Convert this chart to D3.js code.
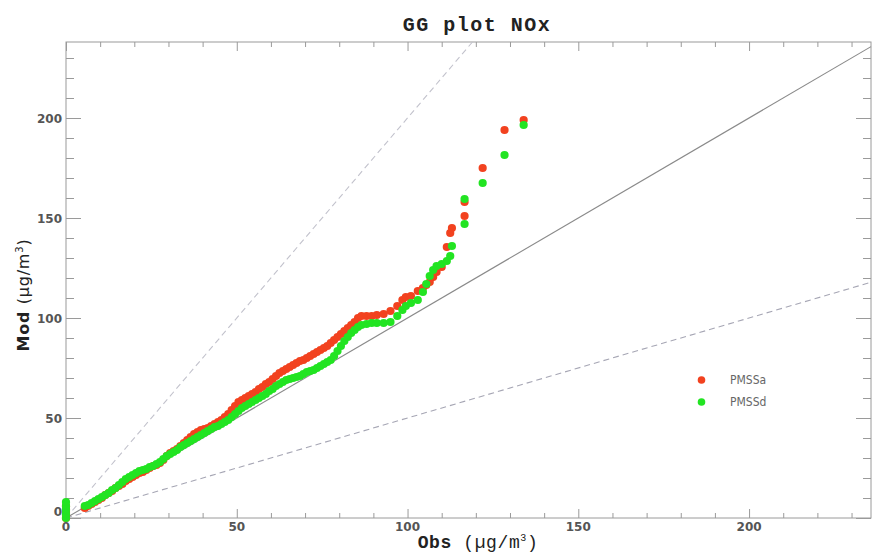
<!DOCTYPE html>
<html>
<head>
<meta charset="utf-8">
<script src="https://cdn.jsdelivr.net/npm/d3@7/dist/d3.min.js"></script>
<style>
  html, body { margin: 0; padding: 0; background: #fff; }
  svg { display: block; }
</style>
</head>
<body>
<svg id="chart" width="872" height="554"></svg>
<script>
// Quantile-quantile data: sorted observed NOx and the matching model quantiles
const obsQuantiles = [
  0, 0, 0, 0, 0,
  5.5, 6.5, 7.5, 8.5, 9.5, 10.5, 11.5, 12.5, 13.5, 14.5,
  15.5, 16.5, 17.5, 18.5, 19.5, 20.5, 21.5, 22.5, 23.5, 24.5,
  25.5, 26.5, 27.5, 28.5, 29.5, 30.5, 31.5, 32.5, 33.5, 34.5,
  35.5, 36.5, 37.5, 38.5, 39.5, 40.5, 41.5, 42.5, 43.5, 44.5,
  45.5, 46.5, 47.5, 48.5, 49.5, 50.5, 51.5, 52.5, 53.5, 54.5,
  55.5, 56.5, 57.5, 58.5, 59.5, 60.5, 61.5, 62.5, 63.5, 64.5,
  65.5, 66.5, 67.5, 68.5, 69.5, 70.5, 71.5, 72.5, 73.5, 74.5,
  75.5, 76.5, 77.5, 78.5, 79.5, 80.5, 81.5, 82.5, 83.5, 84.5,
  85.5, 86.5, 88, 89.5, 91, 93, 95, 97, 98.5, 99.5,
  101, 103, 104.5, 105.5, 106.5, 107.5, 108.5, 110, 111.5, 112.5,
  113, 116.7, 116.7, 122, 128.4, 134
];

const modPMSSa = [
  0, 1.5, 3, 4.5, 6,
  5, 6, 7, 8, 9, 10, 11.5, 12.5, 13.5, 15,
  16, 17, 18.5, 19.5, 20.5, 21.5, 22.5, 23, 24, 25,
  26, 26.5, 27.5, 29, 31, 32.5, 33.5, 34.5, 36, 37.5,
  39, 40.5, 42, 43, 44, 44.5, 45, 46, 47, 48,
  49, 50.5, 52, 54, 56, 58, 59, 60, 61, 62,
  63, 64.5, 65.5, 67, 68, 69.5, 71, 72.5, 73.5, 74.5,
  75.5, 76.5, 77.5, 78.5, 79, 80, 81, 82, 83, 84,
  85, 86, 87.5, 89, 90.5, 92, 93.5, 95, 96.5, 98,
  100, 101, 101, 101, 101.5, 102, 103.5, 106, 109, 110.5,
  111, 113.5, 115, 116.5, 118, 120.5, 123, 125.5, 135.5, 142.5,
  145, 151, 158, 175, 194, 199
];

const modPMSSd = [
  0, 2, 4, 6, 8,
  6, 6.5, 7.5, 8.5, 9.5, 10.5, 11.5, 12.5, 14, 15,
  16.5, 18, 19.5, 20.5, 21.5, 22.5, 23.5, 24, 24.5, 25.5,
  26, 27, 28, 29.5, 31, 32, 33, 34, 35.5, 36.5,
  37.5, 38.5, 39.5, 40.5, 41.5, 42.5, 43.5, 44.5, 45.5, 46,
  47, 48, 49, 50.5, 52, 53.5, 55, 56, 57, 58,
  59, 60, 61, 62, 63.5, 64.5, 66, 67, 68, 69,
  69.5, 70, 70.5, 71, 72, 73, 73.5, 74, 75, 76,
  77, 78, 79, 81, 83.5, 86, 88.5, 90.5, 92.5, 94,
  95.5, 96.5, 97, 97.5, 97.5, 97.5, 98, 101, 104, 106,
  107.5, 109, 113, 117, 121, 124, 126, 127, 128.5, 131,
  136, 147, 159.5, 167.5, 181.5, 196.5
];

const seriesNames = ["PMSSa", "PMSSd"];
const seriesColors = ["#f2421f", "#22e422"];
const xTickValues = [0, 50, 100, 150, 200];
const yTickValues = [0, 50, 100, 150, 200];

// reference lines: slope 1 (solid), slope 2 and 1/2 (dashed)
const refSlopes = [1, 2, 0.5];

const svg = d3.select("#chart");
const plotLeft = 66, plotRight = 871, plotTop = 42, plotBottom = 518;

const x = d3.scaleLinear().domain([0, 235.7]).range([plotLeft, plotRight]);
const y = d3.scaleLinear().domain([0, 238]).range([plotBottom, plotTop]);

const axisColor = "#9a9a9a";

// frame
svg.append("rect")
  .attr("x", plotLeft).attr("y", plotTop)
  .attr("width", plotRight - plotLeft).attr("height", plotBottom - plotTop)
  .attr("fill", "none").attr("stroke", axisColor).attr("stroke-width", 1);

// ticks on all four sides, pointing inwards
const xMinor = d3.range(0, 240, 10);
const yMinor = d3.range(0, 240, 10);

function tickLen(v, major, minor) { return v % 50 === 0 ? major : minor; }

const gb = svg.append("g").attr("transform", `translate(0,${plotBottom})`)
  .call(d3.axisBottom(x).tickValues(xMinor).tickFormat("").tickSizeOuter(0));
gb.selectAll(".tick line").attr("y2", d => -tickLen(d, 9, 5));
const gt = svg.append("g").attr("transform", `translate(0,${plotTop})`)
  .call(d3.axisTop(x).tickValues(xMinor).tickFormat("").tickSizeOuter(0));
gt.selectAll(".tick line").attr("y2", d => tickLen(d, 9, 5));
const gl = svg.append("g").attr("transform", `translate(${plotLeft},0)`)
  .call(d3.axisLeft(y).tickValues(yMinor).tickFormat("").tickSizeOuter(0));
gl.selectAll(".tick line").attr("x2", d => tickLen(d, 15, 8));
const gr = svg.append("g").attr("transform", `translate(${plotRight},0)`)
  .call(d3.axisRight(y).tickValues(yMinor).tickFormat("").tickSizeOuter(0));
gr.selectAll(".tick line").attr("x2", d => -tickLen(d, 15, 8));
svg.selectAll(".domain").remove();
svg.selectAll(".tick line").attr("stroke", axisColor);

// tick labels
const labelFont = "'DejaVu Sans', sans-serif";
svg.append("g").selectAll("text").data(xTickValues).join("text")
  .attr("x", d => x(d)).attr("y", 531)
  .attr("text-anchor", "middle")
  .attr("font-family", labelFont).attr("font-weight", "bold").attr("font-size", 12)
  .attr("fill", "#555").text(d => d);
svg.append("g").selectAll("text").data(yTickValues).join("text")
  .attr("x", 62).attr("y", d => y(d) + (d === 0 ? -2 : 4.5))
  .attr("text-anchor", "end")
  .attr("font-family", labelFont).attr("font-weight", "bold").attr("font-size", 12)
  .attr("fill", "#555").text(d => d);

// reference lines
const xMax = x.domain()[1], yMax = y.domain()[1];
const refG = svg.append("g");
refSlopes.forEach(s => {
  const xe = Math.min(xMax, yMax / s);
  refG.append("line")
    .attr("x1", x(0)).attr("y1", y(0))
    .attr("x2", x(xe)).attr("y2", y(xe * s))
    .attr("stroke", s === 1 ? "#8a8a8a" : (s > 1 ? "#c2c2cc" : "#a6a6b4"))
    .attr("stroke-width", 1.1)
    .attr("stroke-dasharray", s === 1 ? null : "6,4");
});

// points: PMSSa underneath, PMSSd on top
const modSeries = [modPMSSa, modPMSSd];
modSeries.forEach((mods, i) => {
  svg.append("g").selectAll("circle").data(mods).join("circle")
    .attr("cx", (d, j) => x(obsQuantiles[j]))
    .attr("cy", d => y(d))
    .attr("r", 4.1)
    .attr("fill", seriesColors[i]);
});

// legend
const legend = svg.append("g");
seriesNames.forEach((name, i) => {
  legend.append("circle").attr("cx", 701.5).attr("cy", 380 + i * 22).attr("r", 3.8).attr("fill", seriesColors[i]);
  legend.append("text").attr("x", 730).attr("y", 380 + i * 22 + 4)
    .attr("font-family", "'DejaVu Sans Condensed', 'DejaVu Sans', sans-serif")
    .attr("font-size", 12).attr("fill", "#666").text(name);
});

// title
svg.append("text").attr("x", 477).attr("y", 31).attr("text-anchor", "middle")
  .attr("font-family", "'Liberation Mono', monospace").attr("font-weight", "bold")
  .attr("font-size", 20).attr("letter-spacing", 1.5).attr("fill", "#222")
  .text("GG plot NOx");

// x axis title
const xt = svg.append("text").attr("x", 478).attr("y", 548).attr("text-anchor", "middle")
  .attr("font-family", "'Liberation Mono', monospace").attr("font-size", 18)
  .attr("letter-spacing", 0.6).attr("fill", "#222");
xt.append("tspan").attr("font-weight", "bold").text("Obs ");
xt.append("tspan").text("(µg/m");
xt.append("tspan").attr("font-size", 10).attr("dy", -7).text("3");
xt.append("tspan").attr("dy", 7).text(")");

// y axis title
const yt = svg.append("text").attr("transform", "translate(29,295) rotate(-90)")
  .attr("text-anchor", "middle")
  .attr("font-family", "'DejaVu Sans', sans-serif").attr("font-size", 16)
  .attr("letter-spacing", 0.8).attr("fill", "#222");
yt.append("tspan").attr("font-weight", "bold").text("Mod ");
yt.append("tspan").text(" (µg/m");
yt.append("tspan").attr("font-size", 10).attr("dy", -6).text("3");
yt.append("tspan").attr("dy", 6).text(")");
</script>
</body>
</html>
